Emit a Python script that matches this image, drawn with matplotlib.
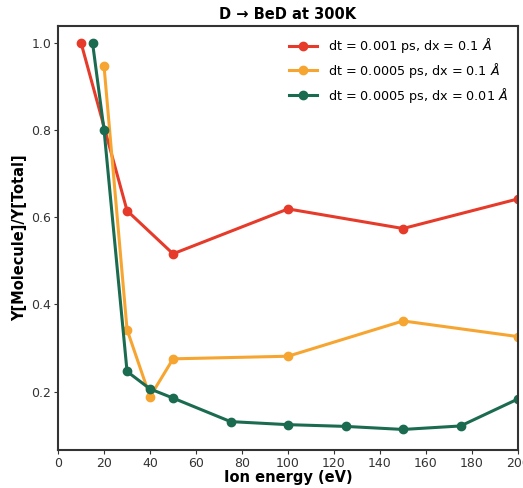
import matplotlib
matplotlib.use('Agg')
import matplotlib.pyplot as plt

# Ion energy (eV) and molecule yield fraction for each run setting
x_red = [10, 30, 50, 100, 150, 200]
y_red = [1.0, 0.615, 0.516, 0.619, 0.574, 0.642]

x_orange = [20, 30, 40, 50, 100, 150, 200]
y_orange = [0.946, 0.342, 0.188, 0.275, 0.281, 0.362, 0.326]

x_green = [15, 20, 30, 40, 50, 75, 100, 125, 150, 175, 200]
y_green = [1.0, 0.80, 0.246, 0.206, 0.185, 0.131, 0.124, 0.120, 0.113, 0.121, 0.183]

labels = [r'dt = 0.001 ps, dx = 0.1 $\AA$',
          r'dt = 0.0005 ps, dx = 0.1 $\AA$',
          r'dt = 0.0005 ps, dx = 0.01 $\AA$']
colors = ['#E63B2A', '#F7A531', '#1B6B50']

fig = plt.figure(figsize=(5.23, 4.88), dpi=100)
ax = fig.add_axes([0.111, 0.078, 0.8795, 0.869])

ax.plot(x_red, y_red, '-o', color=colors[0], lw=2.2, ms=6, label=labels[0])
ax.plot(x_orange, y_orange, '-o', color=colors[1], lw=2.2, ms=6, label=labels[1])
ax.plot(x_green, y_green, '-o', color=colors[2], lw=2.2, ms=6, label=labels[2])

ax.set_xlim(0, 200)
ax.set_ylim(0.066, 1.039)
ax.set_xticks([0, 20, 40, 60, 80, 100, 120, 140, 160, 180, 200])
ax.set_yticks([0.2, 0.4, 0.6, 0.8, 1.0])
ax.tick_params(labelsize=9, colors='#333333', length=3, pad=2)

for s in ax.spines.values():
    s.set_linewidth(1.5)
    s.set_color('#333333')

ax.set_xlabel('Ion energy (eV)', fontsize=10.5, fontweight='bold', labelpad=0)
ax.set_ylabel('Y[Molecule]/Y[Total]', fontsize=10.5, fontweight='bold', labelpad=3)
ax.set_title('D → BeD at 300K', fontsize=10.5, fontweight='bold', pad=5)

ax.legend(loc='upper right', frameon=False, fontsize=9.2, handlelength=2.2,
          labelspacing=0.45, borderaxespad=0.4)

fig.savefig('out.png', dpi=100)
